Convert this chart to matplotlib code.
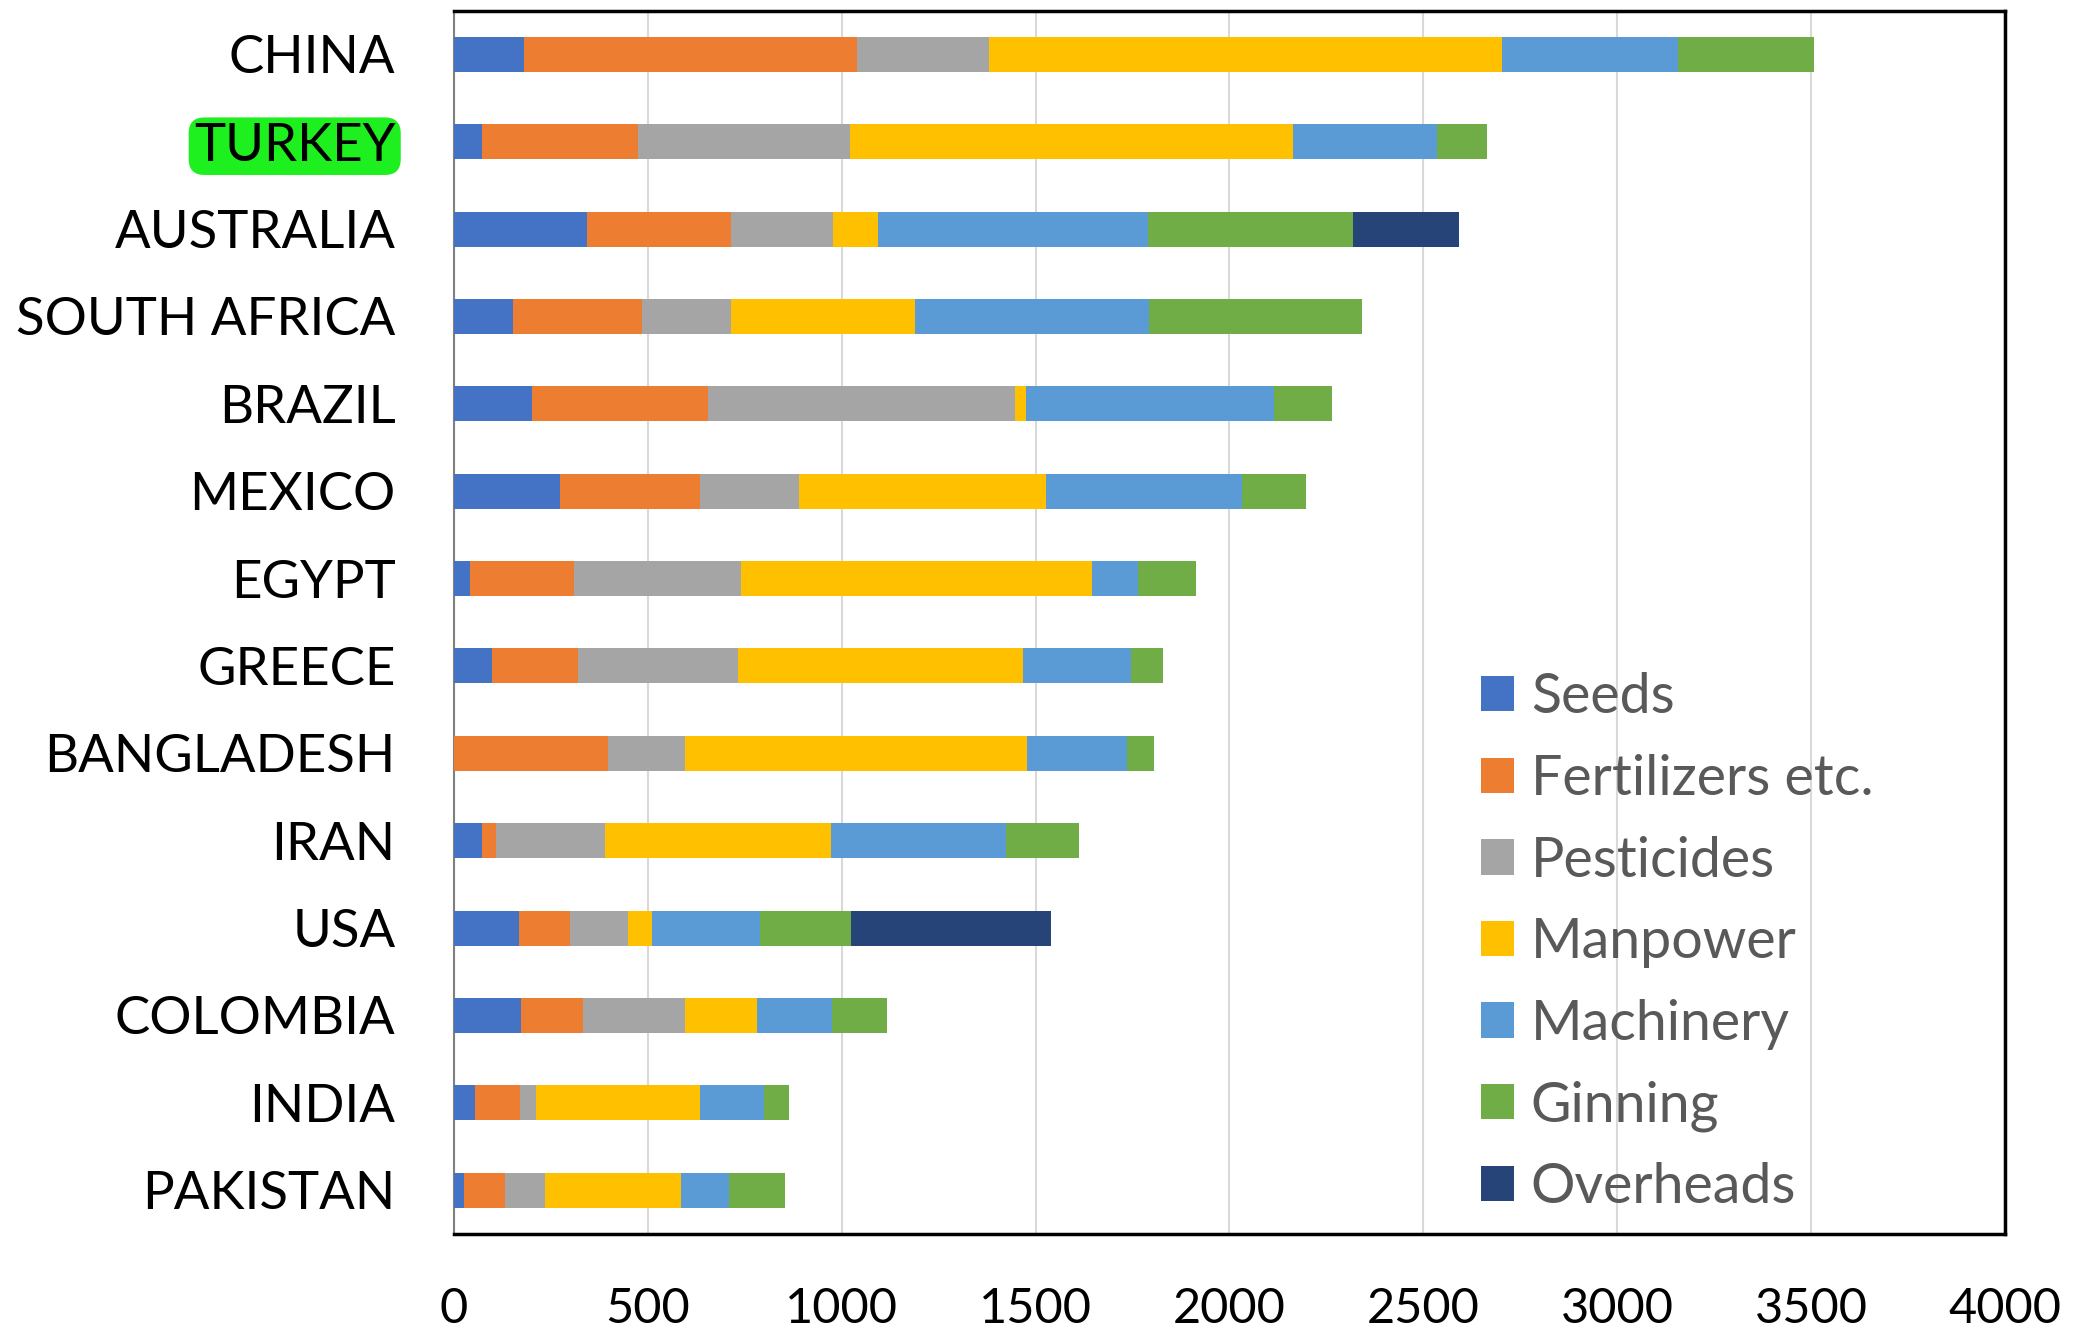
import matplotlib
matplotlib.use("Agg")
import matplotlib.pyplot as plt
import numpy as np

countries = ["CHINA", "TURKEY", "AUSTRALIA", "SOUTH AFRICA", "BRAZIL", "MEXICO", "EGYPT",
             "GREECE", "BANGLADESH", "IRAN", "USA", "COLOMBIA", "INDIA", "PAKISTAN"]
categories = ["Seeds", "Fertilizers etc.", "Pesticides", "Manpower", "Machinery", "Ginning", "Overheads"]

seeds      = [181,  73, 343, 152, 202, 274,  42,  98,   0,  74, 167, 173,  54,  26]
fertilizer = [859, 402, 373, 332, 454, 362, 267, 221, 398,  35, 132, 159, 117, 105]
pesticides = [341, 547, 263, 232, 791, 254, 432, 414, 197, 280, 149, 264,  42, 105]
manpower   = [1322, 1141, 116, 473, 28, 638, 905, 735, 883, 583,  63, 186, 422, 351]
machinery  = [454, 371, 695, 604, 641, 504, 119, 277, 258, 453, 278, 192, 166, 123]
ginning    = [350, 129, 528, 550, 148, 166, 149,  83,  70, 186, 235, 142,  63, 143]
overheads  = [0,     0, 275,   0,   0,   0,   0,   0,   0,   0, 516,   0,   0,   0]

colors = ["#4472C4", "#ED7D31", "#A5A5A5", "#FFC000", "#5B9BD5", "#70AD47", "#264478"]
series = [seeds, fertilizer, pesticides, manpower, machinery, ginning, overheads]

xticks = [0, 500, 1000, 1500, 2000, 2500, 3000, 3500, 4000]

plt.rcParams['font.family'] = ['Lato', 'DejaVu Sans']

fig = plt.figure(figsize=(20.74, 13.31), dpi=100)
ax = fig.add_axes([0.2188, 0.073, 0.748, 0.919])

y = np.arange(len(countries))
left = np.zeros(len(countries))
for name, vals, c in zip(categories, series, colors):
    vals = np.array(vals, dtype=float)
    ax.barh(y, vals, left=left, height=0.4, color=c, label=name, zorder=3)
    left += vals

ax.set_ylim(len(countries) - 0.5, -0.5)
ax.set_xlim(0, 4000)
ax.set_xticks(xticks)
ax.set_xticklabels([str(t) for t in xticks])
ax.set_yticks(y)
ax.set_yticklabels(countries)
ax.tick_params(axis='x', length=0, pad=38, labelsize=35)
ax.tick_params(axis='y', length=0, pad=42, labelsize=38)
ax.grid(axis='x', color='#D9D9D9', lw=1.5, zorder=0)

for lab in ax.get_yticklabels():
    if lab.get_text() == "TURKEY":
        lab.set_bbox(dict(boxstyle='round,pad=0.1,rounding_size=0.3', fc='#1EEF1E', ec='none'))

for s in ['top', 'right', 'bottom']:
    ax.spines[s].set_color('black')
    ax.spines[s].set_linewidth(2.5)
ax.spines['left'].set_color('#808080')
ax.spines['left'].set_linewidth(1.5)

leg = ax.legend(loc='upper left', bbox_to_anchor=(0.662, 0.459), frameon=False,
                fontsize=40, handlelength=0.6, handleheight=0.6, handletextpad=0.3,
                labelspacing=0.55, borderaxespad=0, borderpad=0)
for t in leg.get_texts():
    t.set_color('#595959')

fig.savefig("out.png", dpi=100)
